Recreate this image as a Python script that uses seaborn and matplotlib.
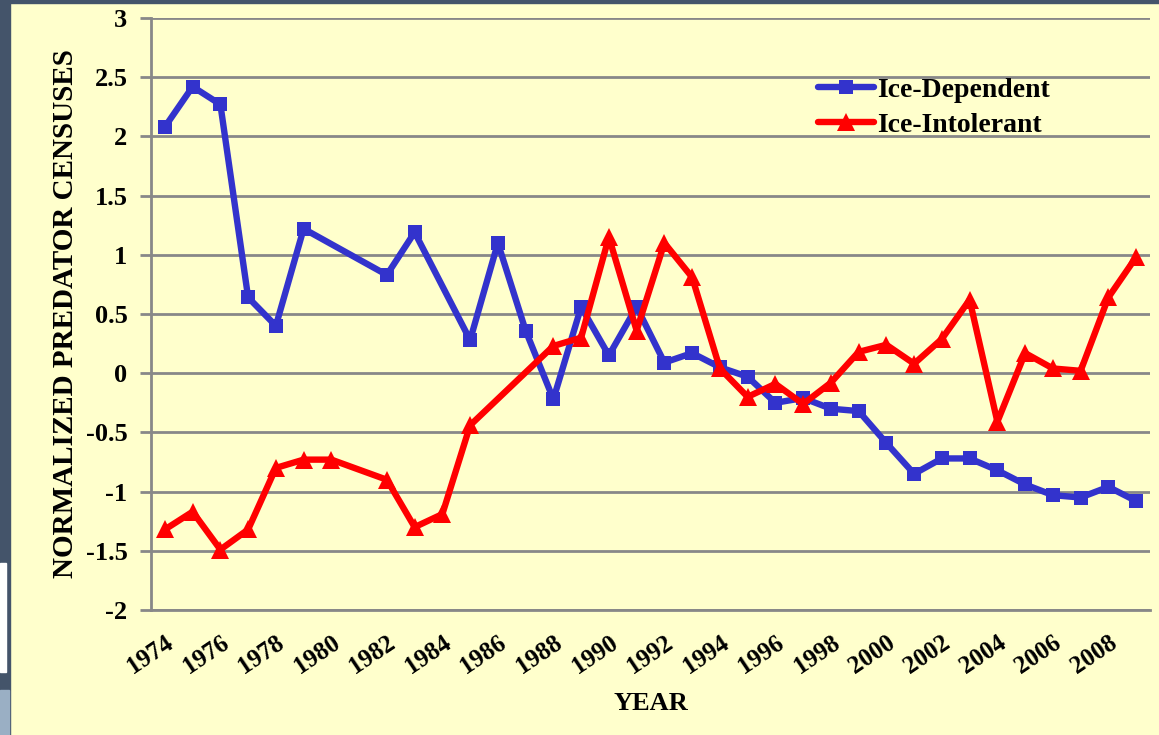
import matplotlib
matplotlib.use("Agg")
import matplotlib.pyplot as plt
from matplotlib.patches import Rectangle
from matplotlib.font_manager import FontProperties
import seaborn as sns
import pandas as pd

# ---- data ----
dep_years = [1974, 1975, 1976, 1977, 1978, 1979, 1982, 1983, 1985, 1986, 1987, 1988,
             1989, 1990, 1991, 1992, 1993, 1994, 1995, 1996, 1997, 1998, 1999, 2000,
             2001, 2002, 2003, 2004, 2005, 2006, 2007, 2008, 2009]
dep_values = [2.08, 2.42, 2.27, 0.64, 0.40, 1.22, 0.83, 1.19, 0.28, 1.10, 0.36, -0.22,
              0.56, 0.15, 0.56, 0.09, 0.17, 0.05, -0.03, -0.25, -0.21, -0.30, -0.32, -0.59,
              -0.85, -0.72, -0.72, -0.82, -0.94, -1.03, -1.05, -0.96, -1.08]

int_years = [1974, 1975, 1976, 1977, 1978, 1979, 1980, 1982, 1983, 1984, 1985, 1988,
             1989, 1990, 1991, 1992, 1993, 1994, 1995, 1996, 1997, 1998, 1999, 2000,
             2001, 2002, 2003, 2004, 2005, 2006, 2007, 2008, 2009]
int_values = [-1.32, -1.17, -1.49, -1.32, -0.80, -0.73, -0.73, -0.90, -1.30, -1.19, -0.44, 0.23,
              0.30, 1.15, 0.36, 1.10, 0.81, 0.04, -0.20, -0.09, -0.26, -0.08, 0.18, 0.24,
              0.08, 0.29, 0.62, -0.41, 0.17, 0.04, 0.02, 0.64, 0.98]

xtick_years = list(range(1974, 2009, 2))
ytick_values = [-2, -1.5, -1, -0.5, 0, 0.5, 1, 1.5, 2, 2.5, 3]
ytick_labels = ["-2", "-1.5", "-1", "-0.5", "0", "0.5", "1", "1.5", "2", "2.5", "3"]

series_names = ["Ice-Dependent", "Ice-Intolerant"]
series_colors = ["#3333CC", "#FF0000"]

df_dep = pd.DataFrame({"YEAR": dep_years, "value": dep_values})
df_int = pd.DataFrame({"YEAR": int_years, "value": int_values})

# ---- style ----
sns.set_theme(style="white")
plt.rcParams["font.family"] = ["Liberation Serif", "DejaVu Serif"]
plt.rcParams["font.weight"] = "bold"
plt.rcParams["text.color"] = "black"
plt.rcParams["axes.labelcolor"] = "black"


def fp(size):
    return FontProperties(family=["Liberation Serif", "DejaVu Serif"], weight="bold", size=size)


BG = "#FFFFCC"
fig = plt.figure(figsize=(11.59, 7.35), dpi=100, facecolor=BG)
ax = fig.add_axes([151 / 1159, 1 - 610 / 735, 999 / 1159, 592 / 735])
ax.set_facecolor(BG)

# slide decoration on the left / top edges
fig.patches.append(Rectangle((0, 0), 10 / 1159, 1, transform=fig.transFigure,
                             color="#44546A", zorder=0))
fig.patches.append(Rectangle((0, 1 - 3 / 735), 1, 3 / 735, transform=fig.transFigure,
                             color="#44546A", zorder=0))
fig.patches.append(Rectangle((0, 1 - 672 / 735), 6 / 1159, 109 / 735, transform=fig.transFigure,
                             color="white", zorder=1))
fig.patches.append(Rectangle((0, 0), 9 / 1159, 45 / 735, transform=fig.transFigure,
                             color="#9AAFC4", zorder=1))

sns.lineplot(data=df_dep, x="YEAR", y="value", ax=ax, color=series_colors[0],
             marker="s", markersize=9.5, markeredgewidth=0, linewidth=4.6,
             label=series_names[0], zorder=3)
sns.lineplot(data=df_int, x="YEAR", y="value", ax=ax, color=series_colors[1],
             marker="^", markersize=13, markeredgewidth=0, linewidth=4.6,
             label=series_names[1], zorder=4)

ax.set_xlim(1973.5, 2009.5)
ax.set_ylim(-2, 3)
ax.set_yticks(ytick_values)
ax.set_yticklabels(ytick_labels, fontproperties=fp(19))
ax.set_xticks(xtick_years)
ax.set_xticklabels([str(y) for y in xtick_years], fontproperties=fp(18),
                   rotation=34, ha="right", rotation_mode="anchor")
ax.tick_params(axis="x", length=0, pad=15, labelcolor="black")
ax.tick_params(axis="y", length=8, width=2, color="#888888", pad=9, left=True,
               labelcolor="black")

ax.grid(axis="y", color="#888888", linewidth=2)
ax.grid(axis="x", visible=False)
ax.set_axisbelow(True)
for side in ["top", "right"]:
    ax.spines[side].set_visible(False)
ax.spines["left"].set_color("#888888")
ax.spines["left"].set_linewidth(2)
ax.spines["bottom"].set_color("#888888")
ax.spines["bottom"].set_linewidth(2)

ax.set_xlabel("YEAR", fontproperties=fp(19), labelpad=10, color="black")
ax.set_ylabel("NORMALIZED PREDATOR CENSUSES", fontproperties=fp(21), labelpad=5,
              color="black")

leg = ax.legend(loc="upper left", bbox_to_anchor=(0.668, 0.90), frameon=False,
                prop=fp(20), handlelength=2.0,
                handletextpad=0.1, labelspacing=0.36, borderaxespad=0, borderpad=0)
for t in leg.get_texts():
    t.set_color("black")

fig.savefig("out.png", dpi=100, facecolor=BG)
